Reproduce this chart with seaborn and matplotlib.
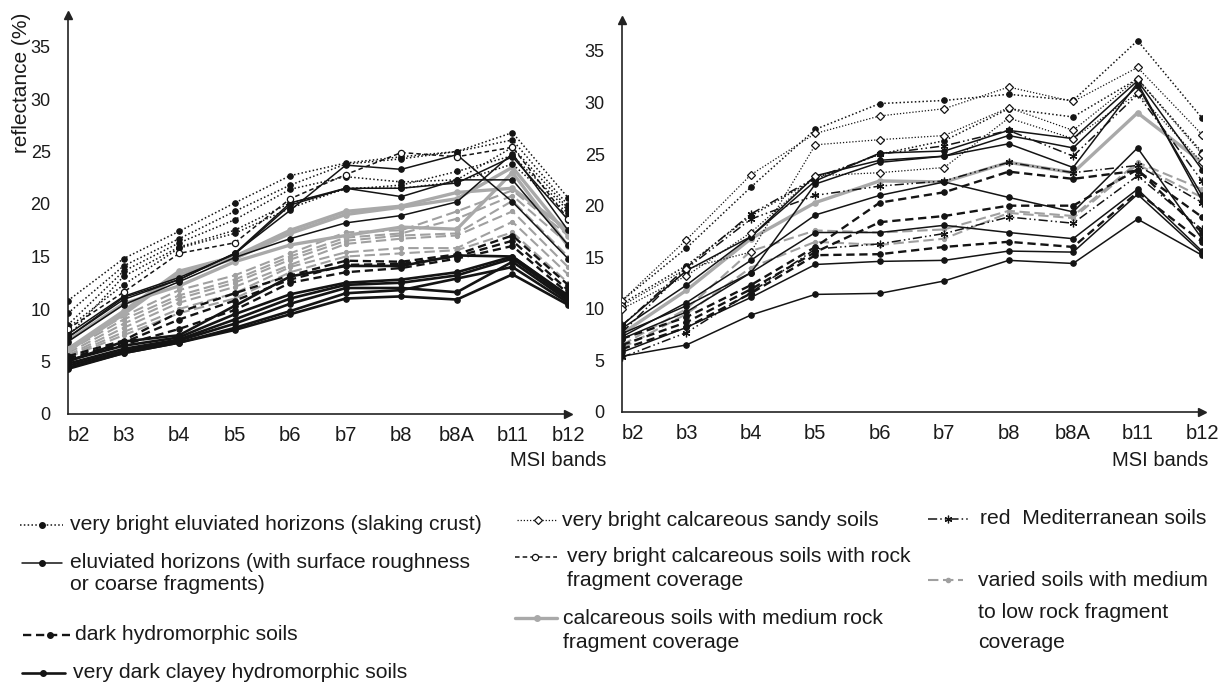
import numpy as np
import pandas as pd
import matplotlib
matplotlib.use("Agg")
import matplotlib.pyplot as plt
import seaborn as sns
from matplotlib.lines import Line2D

# ---------------- data ----------------
bands = ["b2", "b3", "b4", "b5", "b6", "b7", "b8", "b8A", "b11", "b12"]

# Left panel
left_vb_eluviated = [
    [10.8, 14.8, 17.4, 20.1, 22.7, 23.9, 24.5, 25.0, 26.8, 20.6],
    [9.6, 14.1, 16.7, 19.3, 21.8, 23.8, 24.3, 25.0, 26.1, 19.9],
    [8.5, 13.6, 16.3, 18.5, 21.4, 22.6, 22.1, 22.3, 25.4, 19.6],
    [7.4, 13.1, 15.9, 17.5, 20.1, 21.4, 21.8, 23.1, 24.6, 19.4],
    [8.2, 12.3, 15.8, 17.2, 19.6, 21.5, 21.5, 22.1, 23.8, 19.1],
]
left_eluviated = [
    [7.3, 11.1, 12.8, 15.3, 19.4, 23.7, 23.3, 24.7, 20.2, 14.8],
    [7.3, 10.9, 12.8, 15.3, 20.1, 21.5, 20.7, 22.3, 22.3, 16.1],
    [6.9, 10.4, 12.6, 14.9, 16.7, 18.2, 18.9, 20.2, 24.8, 17.5],
    [7.6, 11.2, 13.0, 15.2, 19.9, 21.5, 21.5, 22.0, 24.5, 18.5],
]
left_dark_hydro = [
    [5.5, 7.0, 9.7, 11.5, 13.2, 14.6, 14.5, 15.2, 17.0, 12.3],
    [5.3, 6.8, 9.0, 10.8, 12.8, 14.2, 14.3, 15.0, 16.5, 11.8],
    [5.1, 6.6, 8.1, 9.9, 12.5, 13.5, 13.9, 14.8, 16.0, 11.5],
]
left_vd_clayey = [
    [5.0, 6.9, 7.5, 10.3, 13.1, 14.1, 14.1, 15.1, 15.0, 11.3],
    [5.1, 6.5, 7.3, 9.5, 11.4, 12.5, 12.8, 13.5, 15.0, 11.2],
    [4.8, 6.2, 7.1, 9.0, 11.0, 12.3, 12.5, 13.2, 14.8, 11.0],
    [4.6, 6.0, 7.0, 8.6, 10.5, 12.0, 12.0, 11.6, 14.5, 10.8],
    [4.4, 5.8, 6.8, 8.2, 9.8, 11.5, 11.8, 12.9, 14.0, 10.6],
    [4.3, 5.8, 6.8, 8.0, 9.5, 11.0, 11.2, 10.9, 13.3, 10.4],
]
left_vb_calc_rock = [
    [8.1, 11.6, 15.3, 16.3, 20.5, 22.8, 24.9, 24.5, 25.4, 18.6],
]
left_calc_medium = [
    [6.2, 9.8, 13.6, 15.0, 17.5, 19.3, 19.8, 21.1, 21.5, 17.5],
    [6.0, 9.5, 13.3, 14.8, 17.2, 19.0, 19.7, 20.5, 23.5, 17.0],
    [7.0, 10.5, 12.2, 14.5, 16.1, 17.0, 17.8, 17.6, 23.0, 16.0],
]
left_varied = [
    [6.3, 9.3, 11.8, 13.2, 15.3, 17.3, 17.5, 19.3, 21.3, 17.0],
    [6.0, 9.0, 11.3, 12.8, 15.0, 16.8, 17.2, 18.6, 20.8, 16.2],
    [5.8, 8.6, 11.0, 12.5, 14.7, 16.5, 17.0, 17.2, 20.3, 15.0],
    [5.6, 8.2, 10.6, 12.1, 14.2, 16.2, 16.7, 17.0, 19.3, 14.0],
    [5.5, 7.8, 10.0, 11.5, 14.0, 15.4, 15.8, 15.8, 18.3, 13.3],
    [5.4, 7.5, 9.6, 11.0, 13.5, 15.0, 15.3, 15.6, 17.3, 12.5],
]

# Right panel
right_vb_eluviated = [
    [10.8, 15.9, 21.8, 27.4, 29.9, 30.2, 30.8, 30.2, 36.0, 28.5],
    [10.5, 14.2, 19.0, 22.6, 25.0, 26.3, 29.4, 28.6, 32.3, 25.2],
]
right_vb_sandy = [
    [10.8, 16.7, 23.0, 27.0, 28.7, 29.4, 31.5, 30.1, 33.4, 26.9],
    [10.3, 13.9, 15.5, 25.9, 26.4, 26.8, 29.5, 27.3, 32.3, 25.0],
    [10.0, 13.2, 17.4, 22.9, 23.2, 23.7, 28.5, 26.5, 30.9, 24.2],
]
right_eluviated = [
    [5.4, 6.5, 9.4, 11.4, 11.5, 12.7, 14.7, 14.4, 18.7, 15.2],
    [5.8, 8.2, 11.1, 14.3, 14.6, 14.7, 15.6, 15.5, 21.1, 15.4],
    [7.1, 9.7, 13.5, 17.4, 17.4, 18.1, 17.4, 16.8, 21.6, 15.6],
    [7.3, 10.6, 14.7, 19.1, 21.0, 22.3, 20.8, 19.4, 25.6, 16.8],
    [8.1, 12.3, 17.0, 22.9, 24.4, 24.8, 26.0, 23.7, 31.9, 20.5],
    [8.4, 13.7, 17.0, 22.4, 25.1, 25.3, 27.3, 26.5, 32.1, 23.5],
    [7.6, 10.3, 13.5, 22.1, 24.2, 24.8, 26.8, 25.6, 31.6, 21.0],
]
right_dark_hydro = [
    [7.1, 9.2, 12.3, 16.0, 20.3, 21.3, 23.3, 22.6, 23.4, 18.9],
    [6.5, 8.7, 11.9, 15.5, 18.4, 19.0, 20.0, 20.0, 23.5, 17.4],
    [6.1, 8.2, 11.5, 15.2, 15.3, 16.0, 16.5, 16.0, 21.3, 16.5],
]
right_red_med = [
    [5.3, 7.7, 11.6, 15.8, 16.3, 17.3, 18.9, 18.3, 22.9, 17.7],
    [7.7, 13.9, 18.7, 21.0, 21.9, 22.4, 24.2, 23.2, 23.9, 20.3],
    [8.4, 14.0, 19.2, 22.7, 25.0, 25.8, 27.3, 24.8, 30.8, 22.4],
]
right_calc_medium = [
    [7.6, 11.8, 16.8, 20.3, 22.4, 22.3, 24.2, 23.2, 29.0, 24.2],
]
right_varied = [
    [6.5, 10.0, 15.6, 17.6, 17.4, 17.7, 19.5, 19.0, 24.2, 21.6],
    [6.2, 9.5, 14.0, 16.5, 16.2, 16.8, 19.3, 18.8, 24.0, 20.8],
]

legend_labels = {
    "vb_eluviated": ["very bright eluviated horizons (slaking crust)"],
    "eluviated": ["eluviated horizons (with surface roughness", "or coarse fragments)"],
    "dark_hydro": ["dark hydromorphic soils"],
    "vd_clayey": ["very dark clayey hydromorphic soils"],
    "vb_sandy": ["very bright calcareous sandy soils"],
    "vb_calc_rock": ["very bright calcareous soils with rock", "fragment coverage"],
    "calc_medium": ["calcareous soils with medium rock", "fragment coverage"],
    "red_med": ["red  Mediterranean soils"],
    "varied": ["varied soils with medium", "to low rock fragment", "coverage"],
}

# ---------------- styles ----------------
K = "#141414"
G1 = "#a9a9a9"
G2 = "#a0a0a0"
styles = {
    "vb_eluviated": dict(color=K, lw=1.1, ls=(0, (1, 1.5)), marker="o", ms=4, mfc=K, mec=K),
    "eluviated": dict(color=K, lw=1.1, ls="-", marker="o", ms=4, mfc=K, mec=K),
    "dark_hydro": dict(color=K, lw=1.7, ls=(0, (3.5, 2)), marker="o", ms=4, mfc=K, mec=K),
    "vd_clayey": dict(color=K, lw=1.9, ls="-", marker="o", ms=4, mfc=K, mec=K),
    "vb_sandy": dict(color=K, lw=0.9, ls=(0, (1, 1.5)), marker="D", ms=4, mfc="white", mec=K, mew=0.9),
    "vb_calc_rock": dict(color=K, lw=1.1, ls=(0, (3, 2)), marker="o", ms=4.5, mfc="white", mec=K, mew=0.9),
    "calc_medium": dict(color=G1, lw=2.4, ls="-", marker="o", ms=4, mfc=G1, mec=G1),
    "red_med": dict(color=K, lw=1.1, ls=(0, (6, 2, 1, 2, 1, 2)), marker=(6, 2, 0), ms=5.5, mfc=K, mec=K, mew=0.9),
    "varied": dict(color=G2, lw=1.5, ls=(0, (5, 2.2)), marker="o", ms=3, mfc=G2, mec=G2),
}

sns.set_style("white")
plt.rcParams["font.family"] = ["Liberation Sans", "DejaVu Sans"]
plt.rcParams["text.color"] = "#1a1a1a"

W, H = 1221, 686
fig = plt.figure(figsize=(W / 100, H / 100), dpi=100)
fig.patch.set_facecolor("white")


def fx(x):
    return x / W


def fy(y):
    return 1 - y / H


axL = fig.add_axes([68 / W, (H - 414) / H, 500 / W, 399 / H])
axR = fig.add_axes([622 / W, (H - 412) / H, 580 / W, 392 / H])


def draw(ax, series, key, z):
    rows = [(i, j, v) for i, s in enumerate(series) for j, v in enumerate(s)]
    df = pd.DataFrame(rows, columns=["unit", "band", "refl"])
    sns.lineplot(data=df, x="band", y="refl", units="unit", estimator=None,
                 ax=ax, zorder=z, legend=False, **styles[key])


left_sets = [
    (left_varied, "varied", 2), (left_calc_medium, "calc_medium", 3),
    (left_vd_clayey, "vd_clayey", 4), (left_dark_hydro, "dark_hydro", 5),
    (left_eluviated, "eluviated", 6), (left_vb_eluviated, "vb_eluviated", 7),
    (left_vb_calc_rock, "vb_calc_rock", 8),
]
right_sets = [
    (right_varied, "varied", 2), (right_calc_medium, "calc_medium", 3),
    (right_dark_hydro, "dark_hydro", 5), (right_eluviated, "eluviated", 6),
    (right_red_med, "red_med", 6), (right_vb_eluviated, "vb_eluviated", 7),
    (right_vb_sandy, "vb_sandy", 8),
]
for series, key, z in left_sets:
    draw(axL, series, key, z)
for series, key, z in right_sets:
    draw(axR, series, key, z)

for ax in (axL, axR):
    ax.set_facecolor("white")
    ax.set_xlim(0, 9)
    ax.set_ylim(0, 38)
    for s in ["top", "right"]:
        ax.spines[s].set_visible(False)
    for s in ["left", "bottom"]:
        ax.spines[s].set_linewidth(1.2)
        ax.spines[s].set_color("#222222")
    ax.set_yticks(range(0, 36, 5))
    ax.set_xticks(range(len(bands)))
    ax.set_xticklabels(bands)
    ax.tick_params(axis="both", direction="inout", length=7, width=1, colors="#222222",
                   labelcolor="#1a1a1a")
    ax.tick_params(axis="y", labelsize=13, pad=9)
    ax.tick_params(axis="x", labelsize=14.5, pad=5)
    ax.xaxis.get_major_ticks()[-1].tick1line.set_visible(False)
    ax.plot([1], [0], ">", transform=ax.transAxes, clip_on=False, color="#222222", ms=6, zorder=10)
    ax.plot([0], [1], "^", transform=ax.transAxes, clip_on=False, color="#222222", ms=6, zorder=10)
    ax.set_xlabel("")
    ax.set_ylabel("")
    ax.grid(False)
    ax.get_xticklabels()[0].set_horizontalalignment("left")

fig.text(fx(22), fy(83), "reflectance (%)", rotation=90, ha="center", va="center", fontsize=15)
fig.text(fx(606), fy(461), "MSI bands", ha="right", va="center", fontsize=14.5)
fig.text(fx(1208), fy(461), "MSI bands", ha="right", va="center", fontsize=14.5)

# ---------------- legend ----------------
LFS = 15.2


def legend_entry(key, x0, x1, mx, y, tx, tys):
    st = styles[key]
    fig.add_artist(Line2D([fx(x0), fx(x1)], [fy(y), fy(y)], transform=fig.transFigure,
                          color=st["color"], lw=st["lw"], ls=st["ls"]))
    fig.add_artist(Line2D([fx(mx)], [fy(y)], transform=fig.transFigure, ls="none",
                          marker=st["marker"], ms=st["ms"], mfc=st["mfc"], mec=st["mec"],
                          mew=st.get("mew", 1.0)))
    for line, ty in zip(legend_labels[key], tys):
        fig.text(fx(tx), fy(ty), line, ha="left", va="center", fontsize=LFS)


legend_entry("vb_eluviated", 20, 63, 42, 525, 70, [525])
legend_entry("eluviated", 22, 62, 42, 563, 70, [563, 585])
legend_entry("dark_hydro", 23, 70, 50, 635, 75, [635])
legend_entry("vd_clayey", 22, 65, 43, 673, 73, [673])
legend_entry("vb_sandy", 517, 557, 538, 520, 562, [520])
legend_entry("vb_calc_rock", 515, 557, 535, 557, 567, [557, 581])
legend_entry("calc_medium", 515, 557, 537, 618, 563, [618, 642])
legend_entry("red_med", 928, 970, 948, 519, 980, [519])
legend_entry("varied", 928, 963, 948, 580, 978, [580, 612, 643])

fig.savefig("out.png", dpi=100, facecolor="white")
